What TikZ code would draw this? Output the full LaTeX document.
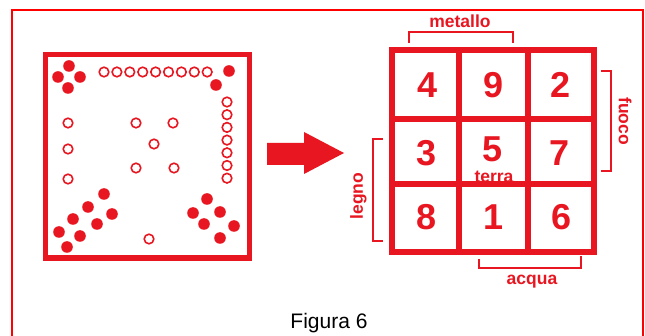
\documentclass[tikz,border=0pt]{standalone}
\usepackage{fontspec}
\setmainfont{Liberation Sans}
\definecolor{ink}{RGB}{232,22,32}
\definecolor{frame}{RGB}{255,0,0}
\begin{document}
\begin{tikzpicture}[x=1pt,y=-1pt,
  board/.style={draw=ink,line width=5.5pt},
  gridline/.style={draw=ink,line width=6pt},
  dot/.style={fill=ink},
  ring/.style={draw=ink,line width=1.6pt},
  num/.style={text=ink,font=\bfseries\fontsize{36}{36}\selectfont,inner sep=0pt},
  lbl/.style={text=ink,font=\bfseries\fontsize{17.5}{17.5}\selectfont,inner sep=0pt},
  brk/.style={draw=ink,line width=2.7pt},
  caption/.style={text=black,font=\fontsize{21}{21}\selectfont,inner sep=0pt}]
\useasboundingbox (0,0) rectangle (645,336);
\fill[white] (0,0) rectangle (645,336);
\draw[frame,line width=2pt] (12,345) -- (12,10) -- (643,10) -- (643,345);
% board
\draw[board] (45.5,54.5) rectangle (249.5,258);
\foreach \p in {(69,66),(58,77),(80,77),(68,88),(229,71),(216,85),
  (104,194),(88,207),(112,214),(73,219),(97,224),(59,232),(80,236),(67,247),
  (207,199),(193,213),(220,212),(204,224),(234,226),(220,238)}
  \fill[dot] \p circle (5.8pt);
\foreach \i in {0,...,8} \draw[ring] (104+12.9*\i,72) circle (4.8pt);
\foreach \i in {0,...,6} \draw[ring] (227,102+12.7*\i) circle (4.8pt);
\foreach \p in {(68,123),(68,149),(68,179),(136,123),(173,123),(154,144),(136,168),(174,168),(149,239)}
  \draw[ring] \p circle (4.8pt);
% arrow
\fill[ink] (267,143) -- (304,143) -- (304,132) -- (344,153) -- (304,174) -- (304,165) -- (267,165) -- cycle;
% grid
\draw[gridline] (392,50) rectangle (594,252);
\draw[gridline] (459,50) -- (459,252);
\draw[gridline] (528,50) -- (528,252);
\draw[gridline] (392,119) -- (594,119);
\draw[gridline] (392,184) -- (594,184);
\node[num] (n4) at (428,85) {4};
\node[num] (n9) at (494,85) {9};
\node[num] (n2) at (561,85) {2};
\node[num] (n3) at (427,153) {3};
\node[num] (n5) at (493,149) {5};
\node[num] (n7) at (560,153) {7};
\node[num] (n8) at (427,217) {8};
\node[num] (n1) at (494,217) {1};
\node[num] (n6) at (562,217) {6};
\node[lbl] (terra) at (494,176.5) {terra};
\node[lbl] (metallo) at (460,21) {metallo};
\node[lbl,rotate=-90] (fuoco) at (625,121) {fuoco};
\node[lbl,rotate=90] (legno) at (358.5,196) {legno};
\node[lbl] (acqua) at (532,281.5) {acqua};
% brackets
\draw[brk] (409,43) -- (409,32) -- (513,32) -- (513,43);
\draw[brk] (601,71) -- (611,71) -- (611,171) -- (601,171);
\draw[brk] (383,139) -- (373,139) -- (373,241) -- (383,241);
\draw[brk] (479,259) -- (479,268) -- (581,268) -- (581,256);
\node[caption,anchor=base] (fig) at (329,329) {Figura 6};
\end{tikzpicture}
\end{document}
